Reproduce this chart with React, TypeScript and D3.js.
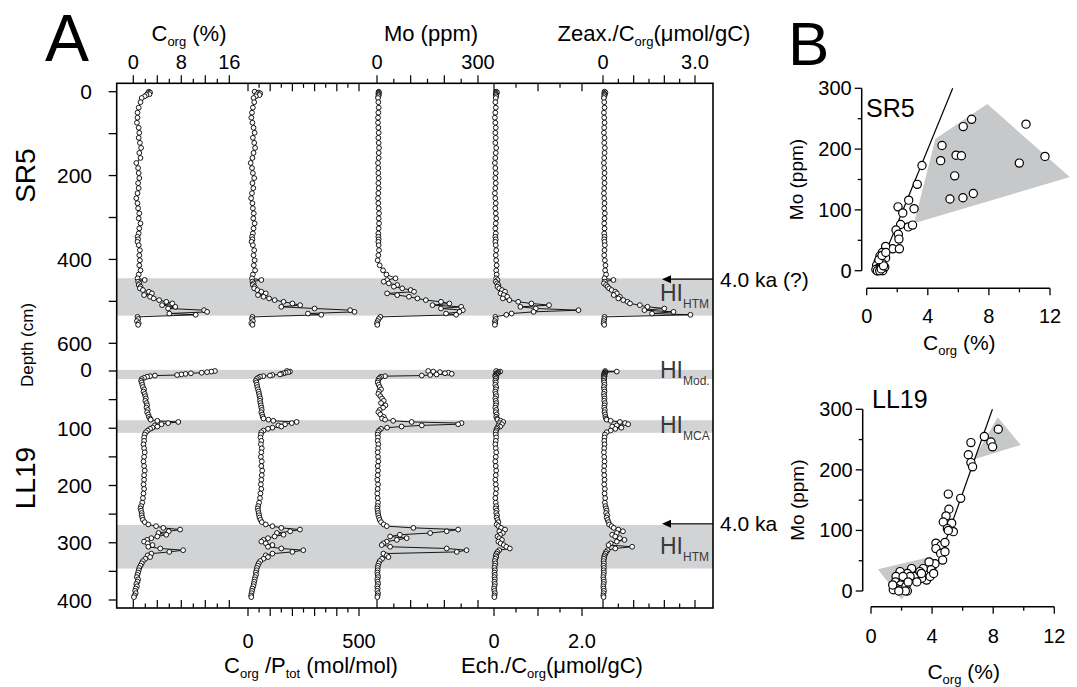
import React from 'react';
import * as d3 from 'd3';

const FONT = '"Liberation Sans", Arial, Helvetica, sans-serif';

// ---------------- Panel A data (depth profiles) ----------------
const SR5_DEPTH = [
  0, 2, 4, 6, 8, 11, 15,
  25, 38, 50, 62, 74, 86, 98, 110, 122, 134, 146, 158, 170, 182, 194, 206, 218, 230, 242, 254, 266, 278, 290, 302, 314, 326, 338, 346, 352, 358, 366, 378, 390, 402, 414, 426, 436,
  445, 449, 453, 457, 461, 465, 469, 473, 477, 481, 485, 489, 493, 497, 501, 505, 509, 513, 517, 521, 525, 529, 532,
  537, 542, 547, 552, 556,
];
const SR5_CORG = [
  2.6, 2.8, 2.4, 2.7, 2.2, 1.9, 1.4,
  1.2, 0.9, 0.7, 0.7, 0.6, 0.9, 1.0, 0.9, 1.1, 1.3, 1.0, 1.2, 0.5, 0.8, 0.9, 1.0, 0.8, 0.9, 0.7, 0.5, 0.7, 0.8, 1.0, 0.9, 1.2, 1.0, 0.9, 0.7, 0.8, 0.7, 0.9, 1.1, 1.0, 1.1, 1.0, 1.2, 0.9,
  0.7, 1.9, 0.8, 1.0, 0.9, 1.2, 1.1, 1.6, 2.6, 3.1, 1.8, 2.8, 3.4, 4.3, 5.5, 6.5, 4.8, 7.0, 5.8, 11.8, 12.3, 6.0, 10.4,
  0.7, 0.8, 0.6, 0.9, 0.8,
];
const SR5_CP = [
  30, 48, 55, 40, 52, 35, 25,
  28, 22, 18, 15, 20, 25, 30, 22, 28, 32, 25, 20, 12, 18, 22, 28, 20, 24, 18, 14, 20, 22, 26, 24, 30, 25, 22, 18, 20, 16, 22, 28, 25, 30, 26, 32, 22,
  18, 60, 20, 25, 22, 30, 28, 42, 60, 80, 45, 70, 95, 120, 160, 200, 235, 150, 300, 460, 480, 270, 330,
  20, 18, 22, 15, 20,
];
const SR5_MO = [
  5, 6, 4, 5, 5, 4, 3,
  4, 5, 4, 3, 3, 4, 5, 4, 5, 6, 5, 5, 3, 4, 4, 5, 4, 5, 4, 3, 4, 5, 6, 5, 6, 5, 4, 4, 5, 4, 5, 6, 4, 2, 8, 18, 28,
  55, 30, 20, 35, 60, 50, 75, 100, 110, 30, 60, 95, 120, 145, 190, 215, 165, 250, 190, 255, 245, 205, 235,
  10, 5, 2, 0, 1,
];
const SR5_ECH = [
  0.05, 0.07, 0.04, 0.05, 0.04, 0.05, 0.04,
  0.03, 0.04, 0.03, 0.02, 0.03, 0.04, 0.03, 0.04, 0.03, 0.05, 0.04, 0.03, 0.02, 0.03, 0.04, 0.03, 0.04, 0.03, 0.02, 0.03, 0.04, 0.03, 0.04, 0.05, 0.04, 0.03, 0.04, 0.03, 0.04, 0.03, 0.04, 0.05, 0.04, 0.05, 0.06, 0.05, 0.06,
  0.05, 0.08, 0.04, 0.07, 0.10, 0.08, 0.12, 0.18, 0.25, 0.15, 0.22, 0.30, 0.20, 0.35, 0.55, 0.85, 1.25, 0.60, 0.95, 1.92, 0.90, 0.40, 0.28,
  0.03, 0.04, 0.02, 0.03, 0.02,
];
const SR5_ZEAX = [
  0.05, 0.08, 0.04, 0.06, 0.05, 0.04, 0.03,
  0.04, 0.05, 0.03, 0.04, 0.05, 0.04, 0.03, 0.05, 0.04, 0.06, 0.05, 0.04, 0.03, 0.04, 0.05, 0.04, 0.05, 0.04, 0.03, 0.04, 0.05, 0.04, 0.06, 0.05, 0.04, 0.05, 0.04, 0.05, 0.04, 0.05, 0.06, 0.05, 0.04, 0.06, 0.08, 0.07, 0.10,
  0.05, 0.34, 0.06, 0.03, 0.10, 0.15, 0.20, 0.28, 0.40, 0.45, 0.35, 0.55, 0.50, 0.66, 0.80, 0.88, 1.20, 1.45, 2.00, 1.35, 2.30, 1.60, 2.85,
  0.05, 0.04, 0.03, 0.02, 0.04,
];

const LL19_DEPTH = [
  0, 1, 2, 3, 4, 5, 6, 7, 8, 9, 10, 12, 14,
  17, 20, 24, 28, 32, 36, 40, 44, 48, 52, 56, 60, 64, 68, 72, 76, 80, 83,
  85, 87, 89, 91, 93, 95, 97, 99, 101, 104, 107,
  111, 116, 122, 128, 135, 142, 150, 158, 166, 174, 182, 190, 198, 206, 214, 222, 230, 236, 240, 244, 248, 252, 256, 260, 264,
  268, 271, 274, 277, 280, 283, 286, 289, 292, 295, 298, 301, 304, 307, 310, 313, 316, 319, 322, 325, 328, 332, 336, 340, 344,
  348, 352, 356, 360, 364, 368, 372, 376, 380, 384, 388, 392, 395,
];
const LL19_CORG = [
  13.6, 13.0, 12.3, 11.4, 9.6, 8.7, 8.0, 7.3, 3.6, 2.8, 2.3, 1.8, 1.4,
  1.3, 1.4, 1.5, 1.6, 1.8, 1.7, 1.9, 2.0, 2.1, 2.0, 2.2, 2.3, 2.2, 2.4, 2.3, 2.5, 2.6, 2.8,
  2.9, 4.0, 7.5, 5.8, 4.7, 3.6, 4.0, 3.2, 2.8, 2.4, 2.1,
  1.9, 1.8, 1.8, 1.7, 1.8, 1.9, 1.8, 1.7, 1.8, 1.9, 1.8, 1.8, 1.7, 1.8, 1.7, 1.6, 1.5, 1.3, 1.2, 1.3, 1.4, 1.4, 1.5, 1.6, 1.9,
  2.5, 3.8, 5.0, 7.8, 5.9, 4.2, 5.5, 4.0, 3.0, 2.3, 1.8, 2.4, 3.2, 2.5, 4.5, 8.3, 6.0, 3.0, 2.4, 2.8, 2.0, 1.6, 1.4, 1.2, 1.0,
  0.9, 0.8, 0.7, 0.6, 0.8, 0.7, 0.5, 0.6, 0.4, 0.3, 0.4, 0.2, 0.1,
];
const LL19_CP = [
  175, 189, 182, 170, 160, 150, 144, 110, 99, 69, 54, 45, 39,
  35, 38, 40, 42, 45, 48, 50, 52, 55, 54, 56, 58, 60, 62, 60, 64, 66, 70,
  92, 114, 219, 197, 167, 137, 150, 110, 90, 70, 60,
  58, 56, 60, 58, 62, 60, 58, 62, 60, 64, 62, 60, 58, 60, 56, 54, 50, 46, 44, 46, 48, 50, 52, 56, 62,
  80, 110, 150, 234, 190, 130, 160, 120, 90, 70, 60, 80, 110, 90, 150, 249, 200, 110, 80, 90, 70, 55, 48, 44, 40,
  38, 35, 36, 32, 30, 28, 26, 24, 20, 18, 16, 14, 15,
];
const LL19_MO = [
  152, 167, 187, 212, 202, 222, 177, 158, 133, 24, 12, 8, 5,
  3, 2, 5, 8, 12, 6, 4, 10, 15, 20, 12, 25, 18, 8, 4, 10, 20, 15,
  24, 48, 103, 251, 241, 133, 73, 30, 12, 6, 3,
  2, 3, 2, 4, 3, 2, 3, 4, 2, 3, 2, 1, 3, 2, 1, 2, 3, 2, 1, 2, 3, 4, 6, 8, 12,
  20, 29, 108, 241, 207, 158, 68, 39, 88, 59, 29, 19, 14, 39, 207, 266, 237, 19, 29, 34, 15, 8, 5, 3, 2,
  2, 1, 2, 3, 1, 2, 3, 1, 2, 1, 3, 2, 1,
];
const LL19_ECH = [
  0.05, 0.14, 0.10, 0.08, 0.06, 0.05, 0.04, 0.06, 0.03, 0.04, 0.03, 0.05, 0.04,
  0.03, 0.04, 0.03, 0.05, 0.04, 0.03, 0.04, 0.05, 0.03, 0.04, 0.05, 0.04, 0.03, 0.05, 0.04, 0.06, 0.05, 0.07,
  0.08, 0.15, 0.21, 0.12, 0.18, 0.10, 0.14, 0.08, 0.06, 0.05, 0.04,
  0.04, 0.05, 0.04, 0.03, 0.04, 0.05, 0.04, 0.03, 0.04, 0.05, 0.04, 0.03, 0.04, 0.05, 0.04, 0.03, 0.04, 0.05, 0.04, 0.06, 0.05, 0.07, 0.06, 0.08, 0.10,
  0.06, 0.10, 0.16, 0.25, 0.12, 0.20, 0.14, 0.08, 0.12, 0.18, 0.10, 0.15, 0.22, 0.28, 0.36, 0.12, 0.08, 0.06, 0.04, 0.05, 0.03, 0.02, 0.03, 0.02, 0.01,
  0.02, 0.01, 0.02, 0.01, 0.02, 0.01, 0.02, 0.01, 0.00, 0.01, 0.02, 0.01, 0.01,
];
const LL19_ZEAX = [
  0.07, 0.45, 0.08, 0.05, 0.06, 0.04, 0.05, 0.04, 0.03, 0.05, 0.04, 0.03, 0.04,
  0.03, 0.04, 0.05, 0.03, 0.04, 0.05, 0.03, 0.04, 0.05, 0.04, 0.06, 0.05, 0.04, 0.06, 0.05, 0.07, 0.08, 0.10,
  0.12, 0.25, 0.55, 0.72, 0.82, 0.45, 0.30, 0.60, 0.40, 0.25, 0.12,
  0.06, 0.05, 0.04, 0.05, 0.04, 0.03, 0.04, 0.05, 0.04, 0.03, 0.04, 0.05, 0.04, 0.06, 0.05, 0.07, 0.06, 0.08, 0.10, 0.12, 0.10, 0.14, 0.12, 0.15, 0.18,
  0.20, 0.28, 0.35, 0.50, 0.65, 0.45, 0.30, 0.40, 0.55, 0.70, 0.45, 0.25, 0.18, 0.95, 0.40, 0.15, 0.10, 0.08, 0.05, 0.04, 0.03, 0.02, 0.03, 0.02, 0.03,
  0.02, 0.03, 0.02, 0.01, 0.02, 0.03, 0.02, 0.01, 0.02, 0.03, 0.02, 0.01, 0.02,
];

// gray intervals (cm) and markers
const SR5_BANDS = [[445, 534]];
const LL19_BANDS = [[-2, 14], [86, 108], [269, 345]];
const AGE_MARKERS = [
  { core: 'SR5', depth: 447, label: '4.0 ka (?)' },
  { core: 'LL19', depth: 267, label: '4.0 ka' },
];
const HI_LABELS = [
  { core: 'SR5', depth: 498, sub: 'HTM' },
  { core: 'LL19', depth: 12, sub: 'Mod.' },
  { core: 'LL19', depth: 108, sub: 'MCA' },
  { core: 'LL19', depth: 319, sub: 'HTM' },
];

// axis tick labels
const SR5_DEPTH_LABELS = [0, 200, 400, 600];
const LL19_DEPTH_LABELS = [0, 100, 200, 300, 400];
const CORG_LABELS = [[0, '0'], [8, '8'], [16, '16']];
const CP_LABELS = [[0, '0'], [500, '500']];
const MO_LABELS = [[0, '0'], [300, '300']];
const ECH_LABELS = [[0, '0'], [2, '2.0']];
const ZEAX_LABELS = [[0, '0'], [3, '3.0']];

// ---------------- Panel B data (scatter) ----------------
const SR5_SC_CORG = [6.87, 6.32, 10.43, 4.93, 4.84, 5.85, 6.2, 9.99, 11.67, 5.76, 5.45, 6.3, 6.98, 3.62, 3.31, 2.75, 3.1, 2.05, 2.36, 2.22, 2.72, 3.0, 1.92, 2.07, 2.11, 1.70, 2.14, 1.24, 1.02, 1.24, 0.87, 0.76, 1.02, 0.65, 0.76, 1.05, 0.68, 0.9, 1.18, 0.6, 0.7, 0.85, 0.95, 1.1, 0.8, 1.0, 1.25];
const SR5_SC_MO = [249, 237, 241, 206, 181, 190, 189, 177, 188, 156, 118, 120, 127, 173, 142, 116, 102, 105, 95, 76, 72, 75, 67, 60, 52, 36, 36, 40, 30, 21, 24, 15, 12, 9, 4, 0, 0, 2, 6, 2, 0, 0, 3, 8, 18, 25, 30];
const SR5_FIT = [[0.75, 0], [5.63, 300]];
const SR5_POLY = [[3.1, 78], [4.5, 217], [7.9, 274], [13.3, 154]];

const LL19_SC_CORG = [8.33, 7.42, 6.54, 7.85, 7.96, 6.37, 6.54, 6.65, 5.06, 5.87, 5.1, 4.91, 4.73, 5.28, 5.0, 5.39, 5.06, 4.25, 4.58, 4.84, 4.25, 4.56, 4.84, 4.69, 4.19, 3.8, 3.93, 3.42, 3.64, 3.32, 3.1, 2.83, 2.66, 2.38, 2.12, 1.9, 1.64, 1.6, 1.94, 1.68, 1.9, 2.29, 2.38, 1.46, 1.42, 2.56, 3.0, 3.2, 3.3, 3.87, 4.1, 2.25, 1.82, 2.1, 2.43];
const LL19_SC_MO = [267, 255, 245, 246, 238, 225, 212, 205, 160, 153, 135, 124, 114, 112, 103, 98, 100, 79, 75, 80, 70, 62, 65, 51, 45, 48, 35, 37, 18, 21, 29, 24, 37, 29, 17, 32, 24, 15, 10, 4, 2, 8, 0, 2, 10, 24, 15, 32, 29, 24, 29, 0, 0, 24, 15];
const LL19_FIT = [[4.1, 27], [7.95, 300]];
const LL19_POLY_LOW = [[0.45, 36], [4.0, 57], [2.0, -14]];
const LL19_POLY_HIGH = [[6.7, 217], [8.3, 287], [9.8, 241]];

const B_X_LABELS = [0, 4, 8, 12];
const B_Y_LABELS = [0, 100, 200, 300];

// ---------------- layout ----------------
const BOX = { x0: 116.7, y0: 83.3, x1: 713, y1: 608 };
const ySR5 = d3.scaleLinear().domain([0, 600]).range([91.7, 343.3]);
const yLL19 = d3.scaleLinear().domain([0, 400]).range([371, 600]);

const xCorg = d3.scaleLinear().domain([0, 16]).range([133.3, 229.3]);
const xCP = d3.scaleLinear().domain([0, 500]).range([248, 359]);
const xMo = d3.scaleLinear().domain([0, 300]).range([377, 478]);
const xEch = d3.scaleLinear().domain([0, 2]).range([494, 582]);
const xZeax = d3.scaleLinear().domain([0, 3]).range([603, 695]);

const COLS = [
  { x: xCorg, step: 2, major: 4, max: 16, side: 'top', labels: CORG_LABELS, sr: SR5_CORG, ll: LL19_CORG },
  { x: xCP, step: 50, major: 100, max: 500, side: 'bottom', labels: CP_LABELS, sr: SR5_CP, ll: LL19_CP },
  { x: xMo, step: 50, major: 100, max: 300, side: 'top', labels: MO_LABELS, sr: SR5_MO, ll: LL19_MO },
  { x: xEch, step: 0.5, major: 1, max: 2, side: 'bottom', labels: ECH_LABELS, sr: SR5_ECH, ll: LL19_ECH },
  { x: xZeax, step: 0.5, major: 1, max: 3, side: 'top', labels: ZEAX_LABELS, sr: SR5_ZEAX, ll: LL19_ZEAX },
];

const BAND = '#d1d3d4';
const POLY = '#c7c8ca';

function Profile({ depths, values, x, y }: any) {
  const n = Math.min(depths.length, values.length);
  const pts: [number, number][] = d3.range(n).map((i) => [x(values[i]), y(depths[i])]);
  const d = d3.line()(pts) || '';
  return (
    <g>
      <path d={d} fill="none" stroke="#000" strokeWidth={0.9} />
      {pts.map((p, i) => (
        <circle key={i} cx={p[0]} cy={p[1]} r={2.4} fill="#fff" stroke="#000" strokeWidth={0.9} />
      ))}
    </g>
  );
}

function isMajor(v: number, major: number) {
  return Math.abs(v / major - Math.round(v / major)) < 1e-6;
}

function Scatter({ xs, ys, fit, polys, x, y, axX, axY, name, nameX, nameY, titleY, labelY }: any) {
  const n = Math.min(xs.length, ys.length);
  const line = d3.line();
  const poly = (p: number[][]) => line(p.map((q) => [x(q[0]), y(q[1])]) as any) + 'Z';
  const xt = d3.range(0, 12.01, 2);
  const yt = d3.range(0, 300.01, 50);
  return (
    <g>
      {polys.map((p: number[][], i: number) => (
        <path key={i} d={poly(p)} fill={POLY} stroke="none" />
      ))}
      <path d={line(fit.map((q: number[]) => [x(q[0]), y(q[1])]) as any) || ''} stroke="#000" strokeWidth={1.2} fill="none" />
      {d3.range(n).map((i) => (
        <circle key={i} cx={x(xs[i])} cy={y(ys[i])} r={4.1} fill="#fff" stroke="#000" strokeWidth={1.2} />
      ))}
      {/* y axis */}
      <line x1={axX} x2={axX} y1={y(0)} y2={y(300)} stroke="#000" strokeWidth={1.5} />
      {yt.map((v) => (
        <line key={v} x1={axX} x2={axX - (isMajor(v, 100) ? 7 : 4)} y1={y(v)} y2={y(v)} stroke="#000" strokeWidth={1.3} />
      ))}
      {B_Y_LABELS.map((v) => (
        <text key={v} x={axX - 10} y={y(v) + 7} fontSize={20} textAnchor="end">{v}</text>
      ))}
      {/* x axis */}
      <line x1={x(0)} x2={x(12)} y1={axY} y2={axY} stroke="#000" strokeWidth={1.5} />
      {xt.map((v) => (
        <line key={v} x1={x(v)} x2={x(v)} y1={axY} y2={axY + (isMajor(v, 4) ? 7 : 4)} stroke="#000" strokeWidth={1.3} />
      ))}
      {B_X_LABELS.map((v) => (
        <text key={v} x={x(v)} y={labelY} fontSize={20} textAnchor="middle">{v}</text>
      ))}
      <text x={(x(0) + x(12)) / 2 + 1} y={titleY} fontSize={21} textAnchor="middle">
        <tspan>C</tspan>
        <tspan fontSize={13} dy={5}>org</tspan>
        <tspan dy={-5}> (%)</tspan>
      </text>
      <text transform={`translate(${axX - 59},${(y(0) + y(300)) / 2}) rotate(-90)`} fontSize={19} textAnchor="middle">Mo (ppm)</text>
      <text x={nameX} y={nameY} fontSize={25}>{name}</text>
    </g>
  );
}

export default function App() {
  const majorLen = 8;
  const minorLen = 4.5;
  const yOf = (core: string) => (core === 'SR5' ? ySR5 : yLL19);
  return (
    <svg
      width={1077}
      height={687}
      viewBox="0 0 1077 687"
      style={{ position: 'absolute', left: 0, top: 0, background: '#fff' }}
      fontFamily={FONT}
    >
      <rect x={0} y={0} width={1077} height={687} fill="#fff" />

      {/* Bands */}
      {SR5_BANDS.map((b, i) => (
        <rect key={'s' + i} x={BOX.x0} width={BOX.x1 - BOX.x0} y={ySR5(b[0])} height={ySR5(b[1]) - ySR5(b[0])} fill={BAND} />
      ))}
      {LL19_BANDS.map((b, i) => (
        <rect key={'l' + i} x={BOX.x0} width={BOX.x1 - BOX.x0} y={yLL19(b[0])} height={yLL19(b[1]) - yLL19(b[0])} fill={BAND} />
      ))}

      {/* HI labels */}
      {HI_LABELS.map((h, i) => (
        <text key={i} x={660} y={yOf(h.core)(h.depth)} fill="#3a3a3a" fontSize={23}>
          <tspan>HI</tspan>
          <tspan fontSize={12} dy={7}>{h.sub}</tspan>
        </text>
      ))}

      {/* Profiles */}
      {COLS.map((c, i) => (
        <g key={i}>
          <Profile depths={SR5_DEPTH} values={c.sr} x={c.x} y={ySR5} />
          <Profile depths={LL19_DEPTH} values={c.ll} x={c.x} y={yLL19} />
        </g>
      ))}

      {/* Frame */}
      <rect x={BOX.x0} y={BOX.y0} width={BOX.x1 - BOX.x0} height={BOX.y1 - BOX.y0} fill="none" stroke="#000" strokeWidth={1.6} />

      {/* Column ticks */}
      {COLS.map((c, i) => {
        const ticks = d3.range(0, c.max + c.step / 2, c.step);
        const dir = c.side === 'top' ? -1 : 1;
        return (
          <g key={i}>
            {ticks.map((v) => {
              const len = isMajor(v, c.major) ? majorLen : minorLen;
              const xx = c.x(v);
              return (
                <g key={v}>
                  <line x1={xx} x2={xx} y1={BOX.y0} y2={BOX.y0 + dir * len} stroke="#000" strokeWidth={1.2} />
                  <line x1={xx} x2={xx} y1={BOX.y1} y2={BOX.y1 + dir * len} stroke="#000" strokeWidth={1.2} />
                </g>
              );
            })}
            {c.labels.map((l: any) => (
              <text key={l[1]} x={c.x(l[0])} y={c.side === 'top' ? 69 : 648} fontSize={20} textAnchor="middle">{l[1]}</text>
            ))}
          </g>
        );
      })}

      {/* Column titles */}
      <text x={189} y={41} fontSize={22} textAnchor="middle">
        <tspan>C</tspan><tspan fontSize={13} dy={5}>org</tspan><tspan dy={-5}> (%)</tspan>
      </text>
      <text x={431} y={41} fontSize={22} textAnchor="middle">Mo (ppm)</text>
      <text x={654} y={41} fontSize={22} textAnchor="middle">
        <tspan>Zeax./C</tspan><tspan fontSize={13} dy={5}>org</tspan><tspan dy={-5}>(μmol/gC)</tspan>
      </text>
      <text x={311} y={673} fontSize={22} textAnchor="middle">
        <tspan>C</tspan><tspan fontSize={13} dy={5}>org</tspan><tspan dy={-5}> /P</tspan><tspan fontSize={13} dy={5}>tot</tspan><tspan dy={-5}> (mol/mol)</tspan>
      </text>
      <text x={552} y={673} fontSize={22} textAnchor="middle">
        <tspan>Ech./C</tspan><tspan fontSize={13} dy={5}>org</tspan><tspan dy={-5}>(μmol/gC)</tspan>
      </text>

      {/* Depth axes */}
      {d3.range(0, 601, 100).map((v) => (
        <line key={'sd' + v} x1={BOX.x0} x2={BOX.x0 - 8} y1={ySR5(v)} y2={ySR5(v)} stroke="#000" strokeWidth={1.3} />
      ))}
      {SR5_DEPTH_LABELS.map((v) => (
        <text key={'sl' + v} x={92} y={ySR5(v) + 7.5} fontSize={21} textAnchor="end">{v}</text>
      ))}
      {d3.range(0, 401, 50).map((v) => (
        <line key={'ld' + v} x1={BOX.x0} x2={BOX.x0 - 8} y1={yLL19(v)} y2={yLL19(v)} stroke="#000" strokeWidth={1.3} />
      ))}
      {LL19_DEPTH_LABELS.map((v) => (
        <text key={'ll' + v} x={92} y={yLL19(v) + 7.5 - (v === 0 ? 2 : 0)} fontSize={21} textAnchor="end">{v}</text>
      ))}
      <text transform={`translate(35,${ySR5(200)}) rotate(-90)`} fontSize={28} textAnchor="middle">SR5</text>
      <text transform={`translate(35,${yLL19(187)}) rotate(-90)`} fontSize={28} textAnchor="middle">LL19</text>
      <text transform={`translate(33,345) rotate(-90)`} fontSize={17} textAnchor="middle">Depth (cm)</text>

      {/* Age markers */}
      {AGE_MARKERS.map((m, i) => {
        const yy = yOf(m.core)(m.depth);
        return (
          <g key={i}>
            <line x1={670} x2={BOX.x1} y1={yy} y2={yy} stroke="#000" strokeWidth={1.2} />
            <path d={`M662,${yy} L671,${yy - 4} L671,${yy + 4} Z`} fill="#000" />
            <text x={720} y={yy + 7.5} fontSize={21}>{m.label}</text>
          </g>
        );
      })}

      {/* Panel letters */}
      <text x={45} y={61} fontSize={66}>A</text>
      <text x={788} y={65} fontSize={62}>B</text>

      {/* Panel B scatters */}
      <Scatter
        xs={SR5_SC_CORG} ys={SR5_SC_MO} fit={SR5_FIT} polys={[SR5_POLY]}
        x={d3.scaleLinear().domain([0, 12]).range([866.7, 1050])}
        y={d3.scaleLinear().domain([0, 300]).range([270.7, 88.3])}
        axX={861.7} axY={288.3} name="SR5" nameX={866} nameY={117} titleY={350} labelY={323}
      />
      <Scatter
        xs={LL19_SC_CORG} ys={LL19_SC_MO} fit={LL19_FIT} polys={[LL19_POLY_LOW, LL19_POLY_HIGH]}
        x={d3.scaleLinear().domain([0, 12]).range([871, 1054.3])}
        y={d3.scaleLinear().domain([0, 300]).range([591, 409.3])}
        axX={862.7} axY={606.7} name="LL19" nameX={872} nameY={408} titleY={679} labelY={643}
      />
    </svg>
  );
}
